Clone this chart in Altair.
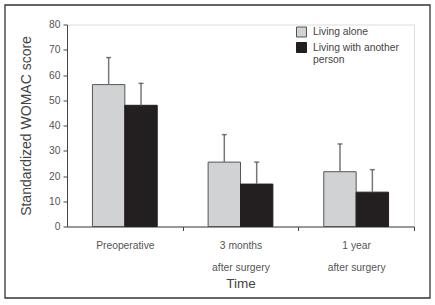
import altair as alt
import pandas as pd

# ---- data ----
times = ["Preoperative", "3 months after surgery", "1 year after surgery"]
groups = ["Living alone", "Living with another person"]
alone_mean = [56.2, 25.5, 21.7]
alone_upper = [66.9, 36.4, 32.7]
with_mean = [48.0, 16.8, 13.6]
with_upper = [56.7, 25.5, 22.5]

rows = []
for i, t in enumerate(times):
    rows.append({"Time": t, "Group": groups[0], "mean": alone_mean[i], "upper": alone_upper[i]})
    rows.append({"Time": t, "Group": groups[1], "mean": with_mean[i], "upper": with_upper[i]})
df = pd.DataFrame(rows)

FONT = "Liberation Sans"
GREY = "#d1d2d4"
BLACK = "#231f20"

PLOT_W = 347
PLOT_H = 202
PAD_IN = 0.44
STEP = PLOT_W / len(times)
GAP = PAD_IN * STEP / 2  # half the gap between bar groups

x_scale = alt.Scale(paddingInner=PAD_IN, paddingOuter=PAD_IN / 2)
x_axis = alt.Axis(
    title="Time",
    labelAngle=0,
    labelAlign="center",
    labelBaseline="top",
    bandPosition=1,
    tickOffset=GAP,
    labelOffset=-GAP,
    ticks=True,
    tickSize=4,
    tickColor="#444444",
    labelFlush=False,
    labelExpr="split(replace(datum.label, ' after', '|after'), '|')",
    labelFontSize=10.3,
    labelLineHeight=21.5,
    labelColor="#555555",
    labelPadding=10,
    domainColor="#444444",
    titleFontSize=13.5,
    titleFontWeight="normal",
    titleColor="#444444",
    titlePadding=4,
)
y_axis = alt.Axis(
    title="Standardized WOMAC score",
    values=[0, 10, 20, 30, 40, 50, 60, 70, 80],
    grid=False,
    labelFontSize=10.3,
    labelColor="#555555",
    labelPadding=3,
    tickSize=4,
    tickColor="#444444",
    domainColor="#444444",
    titleFontSize=14,
    titleFontWeight="normal",
    titleColor="#444444",
    titlePadding=15,
)
x_enc = alt.X("Time:N", sort=times, scale=x_scale, axis=x_axis)
xoff = alt.XOffset("Group:N", sort=groups, scale=alt.Scale(paddingInner=0, paddingOuter=0))
y_scale = alt.Scale(domain=[0, 80], nice=False)

bars = alt.Chart(df).mark_bar(strokeWidth=1).encode(
    x=x_enc,
    xOffset=xoff,
    y=alt.Y("mean:Q", scale=y_scale, axis=y_axis),
    fill=alt.Fill(
        "Group:N",
        sort=groups,
        scale=alt.Scale(domain=groups, range=[GREY, BLACK]),
        legend=alt.Legend(
            title=None,
            orient="none",
            legendX=229,
            legendY=2,
            symbolType="square",
            symbolSize=100,
            symbolStrokeColor="#333333",
            symbolStrokeWidth=1,
            labelFontSize=10.3,
            labelColor="#444444",
            labelOffset=6,
            labelExpr="datum.label == 'Living with another person' ? ['Living with another', 'person'] : datum.label",
            rowPadding=0.5,
            padding=0,
        ),
    ),
    stroke=alt.Stroke(
        "Group:N",
        sort=groups,
        scale=alt.Scale(domain=groups, range=["#555555", BLACK]),
        legend=None,
    ),
)

rules = alt.Chart(df).mark_rule(color="#777777", strokeWidth=1.5).encode(
    x=x_enc,
    xOffset=xoff,
    y=alt.Y("mean:Q", scale=y_scale, axis=y_axis),
    y2="upper:Q",
)

caps = alt.Chart(df).mark_tick(color="#444444", thickness=1.5, size=5, orient="horizontal").encode(
    x=x_enc,
    xOffset=xoff,
    y=alt.Y("upper:Q", scale=y_scale, axis=y_axis),
)

border = alt.Chart(alt.Data(values=[{"b": 1}])).mark_rect(
    fill=None, stroke="#333333", strokeWidth=1.3
).encode(
    x=alt.value(-62), x2=alt.value(363), y=alt.value(-19.5), y2=alt.value(273.5)
)

chart = (
    alt.layer(bars, rules, caps, border)
    .properties(
        width=PLOT_W,
        height=PLOT_H,
        autosize=alt.AutoSizeParams(type="none"),
        padding={"left": 67, "top": 24.5, "right": 21, "bottom": 78.5},
        background="white",
    )
    .configure_view(stroke=None)
    .configure(font=FONT)
)

chart.save("out.html", embed_options={"renderer": "svg", "actions": False})
